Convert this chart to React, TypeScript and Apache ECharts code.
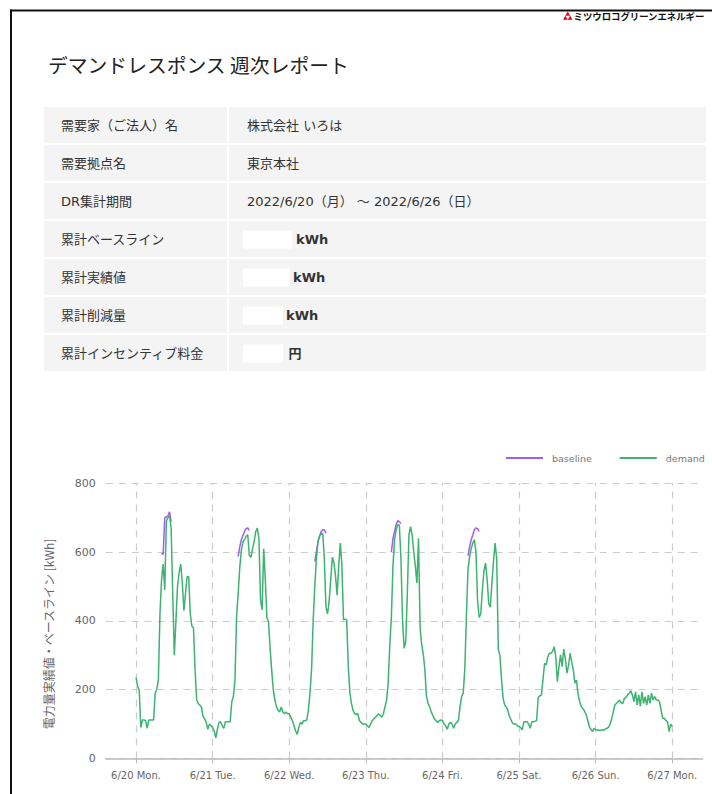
import React, { useEffect, useRef } from 'react';
import * as echarts from 'echarts';

// ---- axis ticks ----
const dayTicks = [0, 24, 48, 72, 96, 120, 144, 168];
const dayLabels = ['6/20 Mon.', '6/21 Tue.', '6/22 Wed.', '6/23 Thu.', '6/24 Fri.', '6/25 Sat.', '6/26 Sun.', '6/27 Mon.'];
const yTicks = [0, 200, 400, 600, 800];

// ---- demand, 30-minute values per day (00:00 .. 23:30) ----
const d0620 = [235, 210, 200, 90, 112, 112, 110, 88, 112, 112, 112, 112, 190, 200, 230, 420, 520, 565, 490, 690, 700, 705, 670, 480, 300, 400, 500, 540, 565, 510, 430, 480, 528, 528, 420, 385, 380, 257, 170, 160, 155, 150, 122, 115, 105, 85, 100, 95];
const d0621 = [90, 80, 60, 85, 105, 107, 95, 88, 107, 107, 107, 107, 165, 180, 230, 412, 480, 555, 605, 630, 636, 646, 650, 590, 585, 610, 630, 660, 670, 640, 460, 432, 610, 520, 410, 398, 320, 257, 200, 170, 150, 140, 135, 150, 135, 130, 135, 130];
const d0622 = [130, 120, 110, 95, 80, 70, 90, 105, 100, 110, 110, 112, 140, 190, 260, 400, 500, 580, 630, 648, 652, 655, 580, 440, 420, 458, 520, 585, 570, 530, 475, 560, 626, 560, 403, 405, 403, 267, 190, 160, 140, 130, 128, 130, 110, 105, 100, 100];
const d0623 = [100, 95, 90, 100, 110, 115, 120, 125, 130, 125, 120, 130, 150, 170, 220, 330, 412, 560, 636, 665, 680, 678, 580, 400, 320, 340, 480, 650, 674, 650, 600, 560, 510, 640, 380, 330, 303, 257, 180, 160, 150, 135, 125, 115, 110, 105, 110, 112];
const d0624 = [110, 100, 95, 85, 100, 105, 100, 88, 100, 105, 110, 150, 180, 190, 260, 412, 550, 587, 610, 626, 636, 600, 460, 410, 420, 490, 545, 568, 520, 450, 440, 510, 575, 626, 580, 316, 300, 230, 175, 155, 150, 140, 122, 112, 102, 100, 100, 95];
const d0625 = [93, 90, 83, 107, 107, 107, 100, 88, 107, 107, 108, 110, 178, 182, 185, 230, 277, 272, 296, 306, 306, 311, 325, 296, 223, 267, 301, 267, 318, 290, 248, 270, 306, 280, 257, 219, 228, 185, 165, 151, 145, 138, 128, 112, 93, 85, 78, 88];
const d0626 = [83, 83, 82, 82, 83, 83, 85, 88, 90, 100, 115, 135, 156, 160, 165, 170, 162, 160, 175, 178, 185, 190, 197, 185, 165, 194, 155, 185, 152, 194, 160, 180, 155, 185, 160, 190, 170, 180, 170, 170, 165, 140, 117, 117, 110, 107, 78, 100];
const demandFinal = 93; // 6/27 00:00

// ---- baseline, 30-minute values from 08:00 on weekdays ----
const b0620 = [597, 593, 700, 702, 705, 717, 688];
const b0621 = [587, 615, 636, 648, 660, 668, 670, 663];
const b0622 = [572, 600, 630, 645, 660, 665, 665, 655];
const b0623 = [600, 640, 660, 680, 692, 688, 683];
const b0624 = [590, 615, 636, 650, 665, 670, 668, 660];
const baselineStartHour = 8;

// ---- table ----
const rowLabels = ['需要家（ご法人）名', '需要拠点名', 'DR集計期間', '累計ベースライン', '累計実績値', '累計削減量', '累計インセンティブ料金'];
const rowValues = ['株式会社 いろは', '東京本社', '2022/6/20（月） ～ 2022/6/26（日）', '', '', '', ''];
const rowUnits = ['', '', '', 'kWh', 'kWh', 'kWh', '円'];

const GREEN = '#3cb371';
const PURPLE = '#a35ded';
const JP = '"Noto Sans CJK JP", "Noto Sans", sans-serif';
const MIX = '"DejaVu Sans", "Noto Sans CJK JP", sans-serif';
const LAT = '"DejaVu Sans", sans-serif';

function buildDemand() {
  const out: any[] = [];
  [d0620, d0621, d0622, d0623, d0624, d0625, d0626].forEach((arr, d) => {
    arr.forEach((v, i) => out.push([d * 24 + i * 0.5, v]));
  });
  out.push([168, demandFinal]);
  return out;
}

function buildBaseline() {
  const out: any[] = [];
  [b0620, b0621, b0622, b0623, b0624].forEach((arr, d) => {
    arr.forEach((v, i) => out.push([d * 24 + baselineStartHour + i * 0.5, v]));
    out.push([d * 24 + baselineStartHour + arr.length * 0.5, '-']);
  });
  return out;
}

function buildGraphic() {
  const g: any[] = [];
  // frame
  g.push({ type: 'rect', shape: { x: 10, y: 9.5, width: 702, height: 2 }, style: { fill: '#111' } });
  g.push({ type: 'rect', shape: { x: 10, y: 9.5, width: 2, height: 790 }, style: { fill: '#111' } });
  // logo
  g.push({ type: 'polygon', shape: { points: [[563, 19.8], [572.5, 19.8], [567.75, 11.6]] }, style: { fill: '#e60012' } });
  g.push({ type: 'polygon', shape: { points: [[565.4, 15.7], [570.1, 15.7], [567.75, 19.8]] }, style: { fill: '#fff' } });
  g.push({ type: 'text', x: 573.5, y: 16, style: { text: 'ミツウロコグリーンエネルギー', fontSize: 9.4, fontWeight: 'bold', fill: '#111', fontFamily: JP, verticalAlign: 'middle' } });
  // title
  g.push({ type: 'text', x: 48, y: 64, style: { text: 'デマンドレスポンス 週次レポート', fontSize: 19.8, fill: '#222', fontFamily: JP, verticalAlign: 'middle' } });
  // table
  const boxW = [49, 47, 40, 40];
  const unitX = [296, 293, 286, 288.5];
  rowLabels.forEach((lab, i) => {
    const top = 107 + 38 * i;
    const cy = top + 18.5;
    g.push({ type: 'rect', shape: { x: 44, y: top, width: 183, height: 36 }, style: { fill: '#f4f4f4' } });
    g.push({ type: 'rect', shape: { x: 229, y: top, width: 477, height: 36 }, style: { fill: '#f4f4f4' } });
    g.push({ type: 'text', x: 61, y: cy, style: { text: lab, fontSize: 13, fill: '#333', fontFamily: MIX, verticalAlign: 'middle' } });
    if (rowValues[i]) {
      g.push({ type: 'text', x: 247, y: cy, style: { text: rowValues[i], fontSize: 13, fill: '#333', fontFamily: MIX, verticalAlign: 'middle' } });
    }
    if (rowUnits[i]) {
      const k = i - 3;
      g.push({ type: 'rect', shape: { x: 243, y: cy - 9, width: boxW[k], height: 18 }, style: { fill: '#fff' } });
      g.push({ type: 'text', x: unitX[k], y: cy, style: { text: rowUnits[i], fontSize: 13, fontWeight: 'bold', fill: '#333', fontFamily: MIX, verticalAlign: 'middle' } });
    }
  });
  // y axis name
  g.push({ type: 'text', x: 48, y: 634, rotation: Math.PI / 2, style: { text: '電力量実績値・ベースライン [kWh]', fontSize: 12, fill: '#666', fontFamily: JP, align: 'center', verticalAlign: 'middle' } });
  return g;
}

export default function App() {
  const ref = useRef<HTMLDivElement>(null);
  useEffect(() => {
    const chart = echarts.init(ref.current as HTMLDivElement, null, { renderer: 'svg' });
    const option: any = {
      animation: false,
      backgroundColor: '#fff',
      textStyle: { fontFamily: LAT },
      grid: { left: 105.7, right: 9.4, top: 483.3, bottom: 35.5, containLabel: false },
      legend: {
        data: ['baseline', 'demand'],
        orient: 'horizontal',
        left: 506,
        top: 453,
        width: 300,
        padding: 0,
        icon: 'rect',
        itemWidth: 37,
        itemHeight: 2,
        itemGap: 28,
        textStyle: { color: '#777', fontSize: 9.5, fontFamily: LAT, padding: [0, 0, 0, 4] },
      },
      xAxis: {
        type: 'value',
        min: -9.5,
        max: 177.5,
        axisLine: { show: true, lineStyle: { color: '#bbb', width: 1.5 } },
        axisTick: { show: true, customValues: dayTicks, length: 5, lineStyle: { color: '#bbb' } },
        axisLabel: {
          customValues: dayTicks,
          formatter: (v: number) => dayLabels[dayTicks.indexOf(v)] ?? '',
          color: '#666',
          fontSize: 10,
          margin: 12,
          fontFamily: LAT,
        },
        splitLine: { show: false },
      },
      yAxis: {
        type: 'value',
        min: yTicks[0],
        max: yTicks[yTicks.length - 1],
        interval: 200,
        axisLine: { show: false },
        axisTick: { show: false },
        axisLabel: { color: '#666', fontSize: 11, margin: 10, fontFamily: LAT },
        splitLine: { show: true, lineStyle: { color: '#ccc', type: [7, 6], width: 1.2 } },
      },
      series: [
        {
          name: 'baseline',
          type: 'line',
          data: buildBaseline(),
          symbol: 'none',
          showSymbol: false,
          connectNulls: false,
          z: 2,
          lineStyle: { color: PURPLE, width: 1.5 },
          itemStyle: { color: PURPLE },
          markLine: {
            silent: true,
            symbol: ['none', 'none'],
            label: { show: false },
            z: 1,
            lineStyle: { color: '#ccc', type: [7, 6], width: 1.2 },
            emphasis: { disabled: true },
            data: dayTicks.map((h) => ({ xAxis: h })),
          },
        },
        {
          name: 'demand',
          type: 'line',
          data: buildDemand(),
          symbol: 'none',
          showSymbol: false,
          z: 3,
          lineStyle: { color: GREEN, width: 1.5 },
          itemStyle: { color: GREEN },
        },
      ],
      graphic: buildGraphic(),
    };
    chart.setOption(option);
    return () => chart.dispose();
  }, []);
  return <div ref={ref} style={{ position: 'fixed', left: 0, top: 0, width: 712, height: 794, background: '#fff' }} />;
}
